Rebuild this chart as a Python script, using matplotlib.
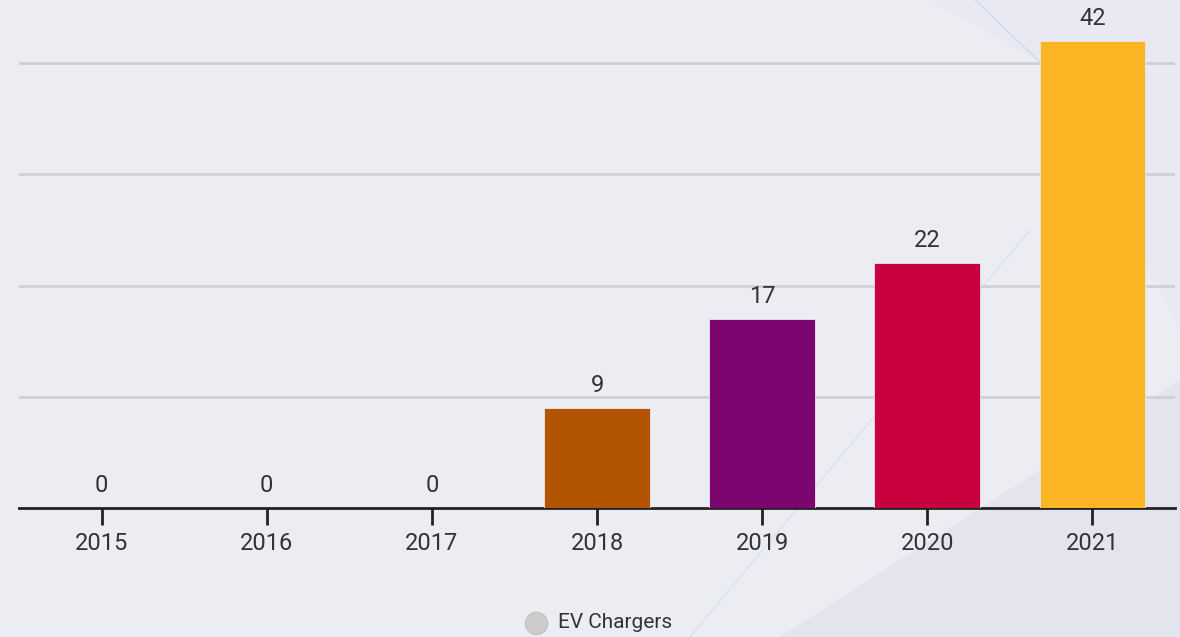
import matplotlib.pyplot as plt
from matplotlib.patches import Polygon
from matplotlib.lines import Line2D

plt.rcParams['font.family'] = ['Roboto', 'DejaVu Sans']

years = ['2015', '2016', '2017', '2018', '2019', '2020', '2021']
chargers = [0, 0, 0, 9, 17, 22, 42]
colors = ['#b35500', '#b35500', '#b35500', '#b35500', '#7c0570', '#c8003f', '#fbb424']
series_name = 'EV Chargers'

W, H = 1180, 637
fig = plt.figure(figsize=(W / 100, H / 100), dpi=100)
fig.patch.set_facecolor('#ecedf2')

# background decoration
fig.patches.append(Polygon([(780 / W, 0), (1, 0), (1, 1 - 380 / H)], closed=True,
                           transform=fig.transFigure, facecolor='#e3e4ee', edgecolor='none', zorder=-2))
fig.patches.append(Polygon([(930 / W, 1), (1, 1), (1, 1 - 330 / H), (1040 / W, 1 - 62 / H)], closed=True,
                           transform=fig.transFigure, facecolor='#e8e9f3', edgecolor='none', zorder=-2))
fig.lines.append(Line2D([975 / W, 1042 / W], [1, 1 - 64 / H], transform=fig.transFigure,
                        color='#d5d8ea', lw=1, zorder=-1))
fig.lines.append(Line2D([690 / W, 1030 / W], [0, 1 - 230 / H], transform=fig.transFigure,
                        color='#dde0ee', lw=1, zorder=-1))

ax = fig.add_axes([19 / W, 1 - 508 / H, (1175 - 19) / W, 508 / H])
ax.set_zorder(1)
ax.set_facecolor('none')
x = range(len(years))
ax.bar(x, chargers, width=0.64, color=colors, edgecolor='#e6e6f0', linewidth=0.6, zorder=3)
for i, v in enumerate(chargers):
    ax.text(i, v + 1.0, str(v), ha='center', va='bottom', fontsize=17, color='#333333', zorder=4)

ax.set_xlim(-0.5, len(years) - 0.5)
ax.set_ylim(0, 45.68)
ax.set_yticks([10, 20, 30, 40])
ax.yaxis.grid(True, color='#cfd0d6', linewidth=2)
ax.set_axisbelow(True)
ax.tick_params(axis='y', left=False, labelleft=False)
ax.set_xticks(list(x))
ax.set_xticklabels(years)
ax.tick_params(axis='x', length=12, width=2, color='#222222', labelsize=17, labelcolor='#333333', pad=5)
for s in ['top', 'right', 'left']:
    ax.spines[s].set_visible(False)
ax.spines['bottom'].set_color('#222222')
ax.spines['bottom'].set_linewidth(2)

# legend
fig.lines.append(Line2D([536 / W], [1 - 623 / H], transform=fig.transFigure, marker='o',
                        markersize=16, markerfacecolor='#cccccc', markeredgecolor='#c4c4c4',
                        linestyle='none', zorder=5))
fig.text(558 / W, 1 - 623 / H, series_name, ha='left', va='center', fontsize=15, color='#333333')

fig.savefig('out.png', dpi=100, facecolor=fig.get_facecolor())
